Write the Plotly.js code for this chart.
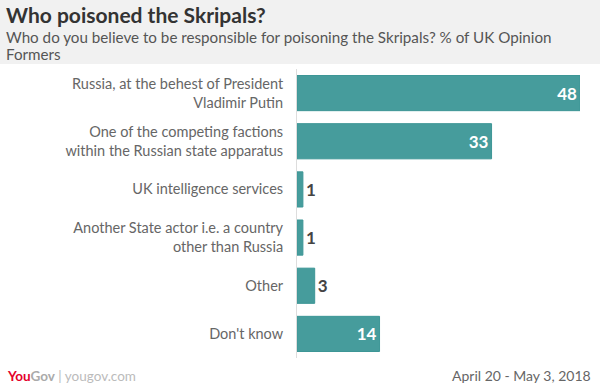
<!DOCTYPE html>
<html>
<head>
<meta charset="utf-8">
<script src="https://cdn.plot.ly/plotly-3.0.1.min.js"></script>
<style>html,body{margin:0;padding:0;background:#fff;}#chart{width:600px;height:387px;}</style>
</head>
<body>
<div id="chart"></div>
<script>
var categories = [
  "Russia, at the behest of President<br>Vladimir Putin",
  "One of the competing factions<br>within the Russian state apparatus",
  "UK intelligence services",
  "Another State actor i.e. a country<br>other than Russia",
  "Other",
  "Don't know"
];
var values = [48, 33, 1, 1, 3, 14];
var textPositions = values.map(function(v){ return v >= 10 ? "inside" : "outside"; });

var trace = {
  type: "bar",
  orientation: "h",
  y: categories,
  x: values,
  text: values.map(String),
  textposition: textPositions,
  insidetextanchor: "end",
  insidetextfont: {family: "Lato, 'Open Sans', sans-serif", size: 17, color: "#ffffff", weight: "bold"},
  outsidetextfont: {family: "Lato, 'Open Sans', sans-serif", size: 17, color: "#444444", weight: "bold"},
  textangle: 0,
  cliponaxis: false,
  marker: {color: "#469c9c", line: {color: "#3d9696", width: 1}},
  hoverinfo: "none"
};

var layout = {
  width: 600, height: 387,
  margin: {l: 297, r: 20, t: 69, b: 29},
  paper_bgcolor: "#ffffff",
  plot_bgcolor: "#ffffff",
  bargap: 0.27,
  showlegend: false,
  font: {family: "Lato, 'Open Sans', sans-serif", color: "#555"},
  xaxis: {range: [0, 48], showgrid: false, zeroline: false, showticklabels: false, showline: false, fixedrange: true},
  yaxis: {autorange: "reversed", showgrid: false, zeroline: false, showline: true, linecolor: "#dddddd", linewidth: 1,
          ticks: "", ticklabelstandoff: 10, tickfont: {size: 14.5, color: "#666666"}, fixedrange: true},
  shapes: [
    {type: "rect", xref: "paper", yref: "paper", x0: -1.06, x1: 1.08, y0: 1.017, y1: 1.25, fillcolor: "#f1f1f1", line: {width: 0}, layer: "below"}
  ],
  annotations: [
    {xref: "paper", yref: "paper", x: -1.035, y: 1.187, xanchor: "left", yanchor: "middle", showarrow: false,
     text: "<b>Who poisoned the Skripals?</b>", font: {size: 21, color: "#333333"}},
    {xref: "paper", yref: "paper", x: -1.035, y: 1.110, xanchor: "left", yanchor: "middle", showarrow: false,
     text: "Who do you believe to be responsible for poisoning the Skripals? % of UK Opinion", font: {size: 15.2, color: "#555555"}},
    {xref: "paper", yref: "paper", x: -1.035, y: 1.052, xanchor: "left", yanchor: "middle", showarrow: false,
     text: "Formers", font: {size: 15.2, color: "#555555"}},
    {xref: "paper", yref: "paper", x: -1.032, y: -0.062, xanchor: "left", yanchor: "middle", showarrow: false,
     text: "<b><span style='color:#e4002b'>You</span><span style='color:#aaaaaa'>Gov</span></b><span style='color:#bbbbbb'> | yougov.com</span>", font: {size: 13.5}},
    {xref: "paper", yref: "paper", x: 1.045, y: -0.062, xanchor: "right", yanchor: "middle", showarrow: false,
     text: "April 20 - May 3, 2018", font: {size: 14, color: "#666666"}}
  ]
};

Plotly.newPlot("chart", [trace], layout, {displayModeBar: false, staticPlot: true});
</script>
</body>
</html>
